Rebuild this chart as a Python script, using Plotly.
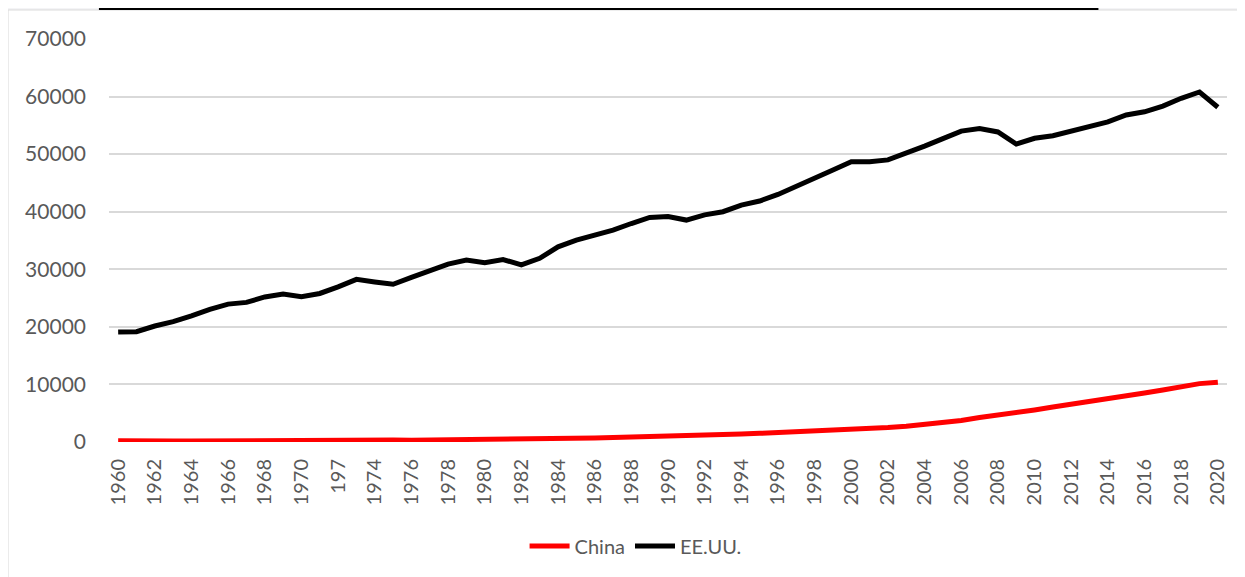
import plotly.graph_objects as go

# years as category labels (the source sheet has "197" for 1972)
years = [str(y) for y in range(1960, 2021)]
years[12] = "197"

china = [230, 165, 155, 170, 195, 225, 245, 225, 210, 240,
         280, 290, 295, 310, 310, 330, 320, 340, 375, 395,
         420, 435, 470, 515, 585, 655, 705, 775, 850, 875,
         895, 965, 1090, 1225, 1370, 1505, 1635, 1765, 1885, 2010,
         2160, 2325, 2520, 2755, 3015, 3340, 3740, 4250, 4640, 5060,
         5570, 6070, 6520, 7000, 7490, 7990, 8500, 9040, 9600, 10140,
         10360]

eeuu = [19100, 19150, 20150, 20900, 21900, 23050, 23950, 24250, 25200, 25700,
        25250, 25800, 26950, 28250, 27800, 27400, 28600, 29750, 30900, 31600,
        31150, 31700, 30750, 31900, 33900, 35050, 35950, 36800, 37950, 39000,
        39150, 38550, 39450, 40000, 41150, 41850, 43000, 44350, 45700, 47250,
        48700, 48700, 49000, 50150, 51400, 52700, 54000, 54450, 53850, 51750,
        52750, 53200, 54050, 54750, 55600, 56800, 57350, 58350, 59700, 60800,
        58150]

tick_years = years[::2]
y_ticks = list(range(0, 70001, 10000))

grey_txt = "#595959"
font_fam = "Lato, 'Open Sans', sans-serif"

fig = go.Figure()

fig.add_trace(go.Scatter(x=years, y=china, mode="lines", name="China",
                         line=dict(color="#ff0000", width=5)))
fig.add_trace(go.Scatter(x=years, y=eeuu, mode="lines", name="EE.UU.",
                         line=dict(color="#000000", width=5)))

# white chart box on the slightly grey page, plus the cut-off title rule
fig.add_shape(type="rect", xref="paper", yref="paper",
              x0=-0.0903, x1=1.03, y0=-0.36, y1=1.072,
              fillcolor="white", line=dict(color="#d9d9d9", width=1), layer="below")
fig.add_shape(type="line", xref="paper", yref="paper",
              x0=-0.009, x1=0.885, y0=1.0744, y1=1.0744,
              line=dict(color="black", width=2))

fig.update_layout(
    width=1245, height=577,
    margin=dict(l=101, r=26, t=31, b=143),
    paper_bgcolor="#f4f4f6",
    plot_bgcolor="white",
    font=dict(family=font_fam, size=20, color=grey_txt),
    showlegend=True,
    legend=dict(orientation="h", x=0.471, xanchor="center", y=-0.258, yanchor="middle",
                font=dict(size=20, color=grey_txt), bgcolor="rgba(0,0,0,0)",
                itemwidth=40, tracegroupgap=0),
    xaxis=dict(type="category", range=[-0.5, 60.5], tickmode="array",
               tickvals=tick_years, ticktext=tick_years, tickangle=-90,
               showgrid=False, showline=False, ticks="", zeroline=False,
               ticklabelstandoff=12,
               tickfont=dict(size=20, color=grey_txt)),
    yaxis=dict(range=[0, 70000], tickvals=y_ticks, tickformat="d",
               showgrid=True, gridcolor="#d9d9d9", gridwidth=1.5,
               zeroline=False, showline=False, ticks="",
               ticklabelstandoff=22, tickfont=dict(size=21, color=grey_txt)),
)

fig.write_html("out.html")
